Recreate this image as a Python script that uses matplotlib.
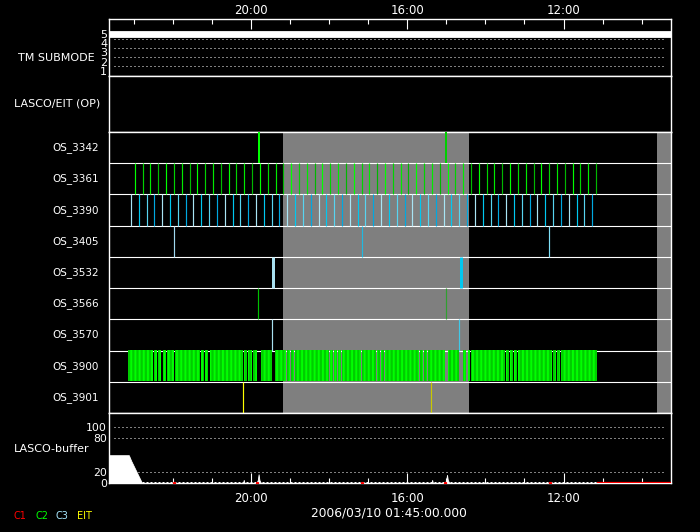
import numpy as np
import matplotlib.pyplot as plt

# ---- data (times in hours of day, axis runs backwards in time) ----
t_left, t_right = 23.64, 9.25

tm_times = [23.64, 9.25]
tm_values = [5, 5]

rows = ["OS_3342", "OS_3361", "OS_3390", "OS_3405", "OS_3532",
        "OS_3566", "OS_3570", "OS_3900", "OS_3901"]

os3342 = ["19:48", "15:00"]
os3361 = ("22:58 22:46 22:34 22:22 22:10 21:58 21:46 21:34 21:22 21:10 "
          "20:58 20:46 20:34 20:22 20:10 19:58 19:46 19:34 19:22 19:10 "
          "18:58 18:46 18:34 18:22 18:10 17:58 17:46 17:34 17:22 17:10 "
          "16:58 16:46 16:34 16:22 16:10 15:58 15:46 15:34 15:22 15:10 "
          "14:58 14:46 14:34 14:22 14:10 13:58 13:46 13:34 13:22 13:10 "
          "12:58 12:46 12:34 12:22 12:10 11:58 11:46 11:34 11:22 11:10").split()
os3390 = ("23:04 22:52 22:40 22:28 22:16 22:04 21:52 21:40 21:28 21:16 "
          "21:04 20:52 20:40 20:28 20:16 20:04 19:52 19:40 19:28 19:16 "
          "19:04 18:52 18:40 18:28 18:16 18:04 17:52 17:40 17:28 17:16 "
          "17:04 16:52 16:40 16:28 16:16 16:04 15:52 15:40 15:28 15:16 "
          "15:04 14:52 14:40 14:28 14:16 14:04 13:52 13:40 13:28 13:16 "
          "13:04 12:52 12:40 12:28 12:16 12:04 11:52 11:40 11:28 11:16").split()
os3405 = ["21:58", "17:10", "12:23"]
os3532 = ["19:26", "14:38"]
os3566 = ["19:49", "15:00"]
os3570 = ["19:28", "14:40"]
os3901 = ["20:12", "15:24"]

# OS_3900 runs almost continuously, with short breaks
os3900_span = (23.15, 11.15)
os3900_gaps = [22.48, 22.38, 22.27, 22.16, 21.96, 21.28, 21.18, 21.07,
               20.18, 20.08, 19.96, (19.84, 19.75), (19.47, 19.37),
               19.09, 18.98, 18.88, 17.98, 17.88, 17.78, 17.67, 17.16,
               16.78, 16.68, 16.58, 15.68, 15.58, 15.48, (15.02, 14.95),
               (14.67, 14.56), 14.47, 14.38, 13.48, 13.38, 13.28, 13.18,
               12.28, 12.18, 12.08]

# data gaps (grey)
gaps = [(19.18, 14.41), (9.61, 9.25)]

buf_times = [23.64, 23.12, 23.06, 22.99, 22.92, 22.85, 22.78,
             20.20, 20.18, 20.16,
             19.86, 19.82, 19.80, 19.78, 19.74,
             15.38, 15.36, 15.34,
             15.03, 15.00, 14.98, 14.96, 14.92, 11.15]
buf_values = [50, 50, 40, 30, 20, 10, 0,
              0, 6, 0,
              0, 6, 16, 6, 0,
              0, 6, 0,
              0, 6, 15, 6, 0, 0]
buf_low_end = 11.15
buf_red = [21.97, 19.84, 17.15, 15.02, 12.34]


def hours(lst):
    out = []
    for s in lst:
        h, m = s.split(":")
        out.append(int(h) + int(m) / 60)
    return out


W, H = 700, 532
fig = plt.figure(figsize=(W / 100, H / 100), dpi=100, facecolor="black")
plt.rcParams["hatch.linewidth"] = 1.4


def panel(top, bottom):
    ax = fig.add_axes([108.5 / W, 1 - bottom / H, (671 - 108.5) / W, (bottom - top) / H])
    ax.set_facecolor("black")
    ax.set_xlim(t_left, t_right)
    for s in ax.spines.values():
        s.set_color("white")
        s.set_linewidth(1)
    ax.set_xticks([])
    ax.set_yticks([])
    return ax


def ftext(x, y, s, **kw):
    kw.setdefault("color", "white")
    kw.setdefault("fontsize", 8)
    kw.setdefault("va", "center")
    fig.text(x / W, 1 - y / H, s, **kw)


dots = dict(color="white", lw=0.72, linestyle=(0, (1, 3)))

# ---- TM submode ----
ax_tm = panel(19, 76)
ax_tm.set_ylim(0.46, 6.62)
ax_tm.plot(tm_times, tm_values, color="white", lw=4.9, solid_capstyle="butt")
for y in [4.5, 3.5, 2.5, 1.5]:
    ax_tm.axhline(y, xmin=0.01, xmax=0.99, **dots)
ax_tm.set_yticks([1, 2, 3, 4, 5])
ax_tm.tick_params(axis="y", length=0, pad=1, labelcolor="white", labelsize=8)
ax_tm.xaxis.set_ticks_position("top")
ax_tm.set_xticks([20, 16, 12])
ax_tm.set_xticklabels(["20:00", "16:00", "12:00"])
ax_tm.set_xticks(list(range(10, 24)), minor=True)
ax_tm.tick_params(axis="x", which="major", direction="in", length=7.2, width=0.8,
                  color="white", labelcolor="white", labelsize=8.5, pad=1.5)
ax_tm.tick_params(axis="x", which="minor", direction="in", length=3.6, width=0.8,
                  color="white")
ftext(95, 58, "TM SUBMODE", ha="right")

# ---- LASCO/EIT (OP) ----
ax_op = panel(76, 132)
ftext(100, 104, "LASCO/EIT (OP)", ha="right")

# ---- OS rows ----
ax_r = panel(132, 413)
ax_r.set_ylim(0, len(rows))
for a, b in gaps:
    ax_r.axvspan(b, a, color="#7f7f7f", lw=0, zorder=0.5)
for k in range(1, len(rows)):
    ax_r.axhline(k, color="white", lw=0.8, zorder=1)


def events(name, times, colors, lw):
    i = rows.index(name)
    y0 = len(rows) - 1 - i
    t = hours(times)
    cols = [colors[j % len(colors)] for j in range(len(t))]
    lc = ax_r.vlines(t, y0, y0 + 1, colors=cols, lw=lw, zorder=3)
    lc.set_snap(True)


events("OS_3342", os3342, ["#00ff00", "#00d000"], 1.44)
events("OS_3361", os3361, ["#00ff00", "#00d400", "#00ea00", "#00b800"], 0.85)
events("OS_3390", os3390, ["#a8e4f4", "#00c8f0", "#58d4f0", "#00a8e0"], 0.85)
events("OS_3405", os3405, ["#a0d8ef", "#20b8e0", "#80e0f8"], 0.85)
events("OS_3532", os3532, ["#a8e0f0", "#00c8f0"], 2.16)
events("OS_3566", os3566, ["#00c000", "#30a030"], 0.85)
events("OS_3570", os3570, ["#a8e0f0", "#40c8e8"], 0.85)
events("OS_3901", os3901, ["#ffff00", "#c8c800"], 0.85)

# OS_3900 continuous blocks
cuts = []
for g in os3900_gaps:
    if isinstance(g, tuple):
        cuts.append(g)
    else:
        cuts.append((g + 0.016, g - 0.016))
cuts.sort(reverse=True)
spans = []
start = os3900_span[0]
for a, b in cuts:
    spans.append((a, start - a))
    start = b
spans.append((os3900_span[1], start - os3900_span[1]))
y900 = len(rows) - 1 - rows.index("OS_3900")
ax_r.broken_barh(spans, (y900 + 0.03, 0.99), facecolor="#00cc00",
                 edgecolor="#00ff00", hatch="||||", lw=0, zorder=3)

for i, name in enumerate(rows):
    ftext(99, 132 + (281 / len(rows)) * (i + 0.5), name, ha="right", fontsize=7.5)

# ---- LASCO buffer ----
ax_b = panel(413, 483.3)
ax_b.set_ylim(0, 125)
for y in [100, 80, 20]:
    ax_b.axhline(y, xmin=0.01, xmax=0.99, **dots)
ax_b.fill_between(buf_times, buf_values, color="white", lw=0.6, edgecolor="white")
ax_b.hlines(1.6, buf_times[6], buf_low_end, color="white", lw=0.72,
            linestyle=(0, (2, 2)))
ax_b.hlines(0.6, buf_low_end, t_right, color="red", lw=1.6, zorder=4)
ax_b.plot(buf_red, [0.8] * len(buf_red), "s", color="red", ms=1.3, zorder=4)
ax_b.set_yticks([0, 20, 80, 100])
ax_b.tick_params(axis="y", length=0, pad=1, labelcolor="white", labelsize=7.8)
ax_b.set_xticks([20, 16, 12])
ax_b.set_xticklabels(["20:00", "16:00", "12:00"])
ax_b.set_xticks(list(range(10, 24)), minor=True)
ax_b.tick_params(axis="x", which="major", direction="in", length=7.2, width=0.8,
                 color="white", labelcolor="white", labelsize=8.5, pad=6)
ax_b.tick_params(axis="x", which="minor", direction="in", length=3.6, width=0.8,
                 color="white")
ftext(90, 449, "LASCO-buffer", ha="right")

ftext(389, 513, "2006/03/10 01:45:00.000", ha="center", fontsize=8.8)
for x, s, c in [(14, "C1", "red"), (35, "C2", "#00ff00"),
                (56, "C3", "#a8e8ff"), (77, "EIT", "yellow")]:
    ftext(x, 516, s, ha="left", color=c, fontsize=7)

fig.savefig("out.png", dpi=100, facecolor="black")
